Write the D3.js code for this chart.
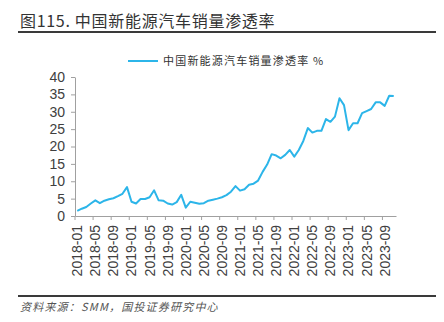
<!DOCTYPE html>
<html>
<head>
<meta charset="utf-8">
<script src="https://cdn.jsdelivr.net/npm/d3@7/dist/d3.min.js"></script>
<style>
  html, body { margin: 0; padding: 0; background: #fff; }
  svg { display: block; }
</style>
</head>
<body>
<svg id="chart" width="444" height="322"></svg>
<script>
const titleText = "图115. 中国新能源汽车销量渗透率";
const seriesName = "中国新能源汽车销量渗透率 %";
const sourceText = "资料来源：SMM，国投证券研究中心";

// Monthly categories 2018-01 … 2023-11
const startYear = 2018, monthCount = 71;
const months = d3.range(monthCount).map(i => {
  const y = startYear + Math.floor(i / 12), m = (i % 12) + 1;
  return y + "-" + String(m).padStart(2, "0");
});

// NEV sales penetration (%)
const penetration = [
  1.5, 2.1, 2.6, 3.6, 4.5, 3.7, 4.4, 4.8, 5.1, 5.7, 6.4, 8.3,
  4.1, 3.6, 4.9, 4.9, 5.4, 7.4, 4.5, 4.4, 3.6, 3.3, 4.0, 6.1,
  2.4, 4.1, 3.8, 3.5, 3.7, 4.4, 4.7, 5.0, 5.4, 6.0, 7.0, 8.6,
  7.3, 7.7, 9.0, 9.3, 10.2, 12.7, 14.8, 17.8, 17.4, 16.6, 17.6, 19.0,
  17.1, 19.0, 21.6, 25.3, 24.0, 24.5, 24.5, 27.9, 27.1, 28.6, 33.9, 31.9,
  24.7, 26.7, 26.7, 29.6, 30.2, 30.8, 32.7, 32.7, 31.7, 34.6, 34.5
];

const yTicks = [0, 5, 10, 15, 20, 25, 30, 35, 40];
const xTickLabels = ["2018-01","2018-05","2018-09","2019-01","2019-05","2019-09",
  "2020-01","2020-05","2020-09","2021-01","2021-05","2021-09",
  "2022-01","2022-05","2022-09","2023-01","2023-05","2023-09"];

const svg = d3.select("#chart");
const lineColor = "#2cb5e9";
const textColor = "#404040";
const axisColor = "#a0a0a0";

// Title
svg.append("text")
  .attr("x", 20).attr("y", 27)
  .attr("font-family", "'Noto Sans CJK SC', sans-serif")
  .attr("font-size", 16).attr("font-weight", 400)
  .attr("letter-spacing", 0.7)
  .attr("fill", "#333")
  .text(titleText);
svg.append("line").attr("x1", 18).attr("x2", 436).attr("y1", 32).attr("y2", 32)
  .attr("stroke", "#3a3a3a").attr("stroke-width", 2);

// Scales
const x = d3.scaleBand().domain(months).range([75, 396]).padding(0);
const y = d3.scaleLinear().domain([0, 40]).range([216, 77]);
const bw = x.bandwidth();

// Y axis
const yAxis = svg.append("g").attr("transform", "translate(75,0)")
  .call(d3.axisLeft(y).tickValues(yTicks).tickSize(4).tickSizeOuter(0).tickPadding(6));
yAxis.select(".domain").attr("stroke", axisColor);
yAxis.selectAll(".tick line").attr("stroke", axisColor);
yAxis.selectAll(".tick text")
  .attr("font-family", "'Liberation Sans', Arial, sans-serif")
  .attr("font-size", 14).attr("fill", textColor);

// X axis
const xAxis = svg.append("g").attr("transform", "translate(0,216)")
  .call(d3.axisBottom(x).tickValues(xTickLabels).tickSize(4).tickSizeOuter(0).tickFormat(""));
xAxis.select(".domain").attr("stroke", axisColor);
xAxis.selectAll(".tick line").attr("stroke", axisColor)
  .attr("transform", `translate(${-bw / 2},0)`);
xAxis.selectAll(".tick").append("text")
  .attr("transform", "translate(0,9) rotate(-90)")
  .attr("text-anchor", "end")
  .attr("dy", "0.35em")
  .attr("font-family", "'Liberation Sans', Arial, sans-serif")
  .attr("font-size", 14).attr("fill", textColor)
  .text(d => d);

// Line
const line = d3.line()
  .x((d, i) => x(months[i]) + bw / 2)
  .y(d => y(d));
svg.append("path").datum(penetration)
  .attr("d", line)
  .attr("fill", "none")
  .attr("stroke", lineColor)
  .attr("stroke-width", 2)
  .attr("stroke-linejoin", "round");

// Legend
svg.append("line").attr("x1", 128).attr("x2", 158).attr("y1", 61).attr("y2", 61)
  .attr("stroke", lineColor).attr("stroke-width", 2);
svg.append("text")
  .attr("x", 163).attr("y", 65)
  .attr("font-family", "'Noto Sans CJK SC', sans-serif")
  .attr("font-size", 11).attr("letter-spacing", 1.2)
  .attr("fill", "#333")
  .text(seriesName);

// Footer
svg.append("line").attr("x1", 18).attr("x2", 436).attr("y1", 296).attr("y2", 296)
  .attr("stroke", "#3a3a3a").attr("stroke-width", 2);
svg.append("text")
  .attr("x", 20).attr("y", 311)
  .attr("font-family", "'Noto Sans CJK SC', sans-serif")
  .attr("font-size", 11).attr("font-style", "italic")
  .attr("letter-spacing", 1.2)
  .attr("fill", "#555")
  .text(sourceText);
</script>
</body>
</html>
